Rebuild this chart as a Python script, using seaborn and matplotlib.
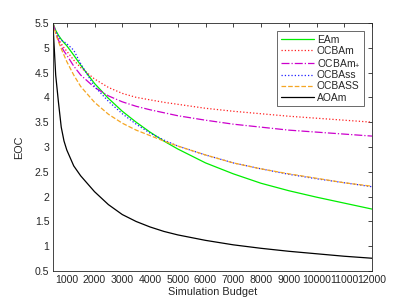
import matplotlib
matplotlib.use('Agg')
import matplotlib.pyplot as plt
import seaborn as sns

# Simulation budget grid
budget = [500, 600, 700, 800, 900, 1000, 1250, 1500, 2000, 2500, 3000, 3500,
          4000, 4500, 5000, 6000, 7000, 8000, 9000, 10000, 11000, 12000]

# EOC per procedure
eam = [5.5, 5.35, 5.25, 5.17, 5.1, 5.04, 4.85, 4.65, 4.28, 3.98, 3.72, 3.5,
       3.3, 3.12, 2.96, 2.68, 2.46, 2.27, 2.12, 1.99, 1.87, 1.75]
ocbam = [5.5, 5.3, 5.17, 5.08, 5.0, 4.93, 4.75, 4.6, 4.37, 4.2, 4.08, 4.0,
         3.95, 3.9, 3.86, 3.78, 3.72, 3.67, 3.62, 3.58, 3.54, 3.5]
ocbam_plus = [5.5, 5.3, 5.15, 5.03, 4.93, 4.85, 4.63, 4.45, 4.2, 4.03, 3.91, 3.82,
              3.75, 3.69, 3.63, 3.54, 3.46, 3.4, 3.34, 3.3, 3.26, 3.22]
ocbass = [5.5, 5.33, 5.22, 5.15, 5.12, 5.08, 4.95, 4.68, 4.22, 3.92, 3.67, 3.46,
          3.28, 3.14, 3.02, 2.84, 2.68, 2.56, 2.45, 2.36, 2.28, 2.2]
ocbass_up = [5.5, 5.28, 5.12, 4.98, 4.85, 4.72, 4.45, 4.22, 3.9, 3.66, 3.48, 3.34,
             3.23, 3.12, 3.02, 2.84, 2.68, 2.56, 2.46, 2.37, 2.28, 2.21]
aoam = [5.5, 4.45, 3.9, 3.4, 3.12, 2.94, 2.62, 2.42, 2.1, 1.84, 1.64, 1.5,
        1.39, 1.3, 1.23, 1.12, 1.03, 0.96, 0.9, 0.85, 0.8, 0.76]

series = [
    ('EAm', eam, '#00ee00', '-'),
    ('OCBAm', ocbam, '#ff2020', ':'),
    ('OCBAm$_{+}$', ocbam_plus, '#cc00cc', '-.'),
    ('OCBAss', ocbass, '#2020ff', ':'),
    ('OCBASS', ocbass_up, '#f5a623', '--'),
    ('AOAm', aoam, 'black', '-'),
]

sns.set_style('white')
plt.rcParams['font.family'] = ['Liberation Sans', 'DejaVu Sans']
plt.rcParams['mathtext.fontset'] = 'custom'
plt.rcParams['mathtext.rm'] = 'Liberation Sans'

fig = plt.figure(figsize=(4.07, 3.05), dpi=100)
ax = fig.add_axes([0.130, 0.111, 0.784, 0.814])

for name, vals, color, ls in series:
    sns.lineplot(x=budget, y=vals, ax=ax, color=color, linestyle=ls,
                 linewidth=0.9, label=name)

ax.set_xlim(500, 12000)
ax.set_ylim(0.5, 5.5)
ax.set_xticks(range(1000, 12001, 1000))
ax.set_yticks([0.5 + 0.5 * i for i in range(11)])
ax.set_yticklabels(['0.5', '1', '1.5', '2', '2.5', '3', '3.5', '4', '4.5', '5', '5.5'])
ax.tick_params(direction='in', length=3, width=0.6, labelsize=7.6, colors='#262626',
               top=True, right=True, pad=2.5)
for s in ax.spines.values():
    s.set_color('#262626')
    s.set_linewidth(0.6)

ax.set_xlabel('Simulation Budget', fontsize=7.8, color='#262626', labelpad=2)
ax.set_ylabel('EOC', fontsize=7.8, color='#262626', labelpad=8)

leg = ax.legend(loc='upper right', fontsize=7.4, frameon=True, fancybox=False,
                edgecolor='#262626', handlelength=3.2, handletextpad=0.3,
                labelspacing=0.12, borderpad=0.35, borderaxespad=0.8)
leg.get_frame().set_linewidth(0.6)

plt.savefig('out.png', dpi=100)
print('done')
